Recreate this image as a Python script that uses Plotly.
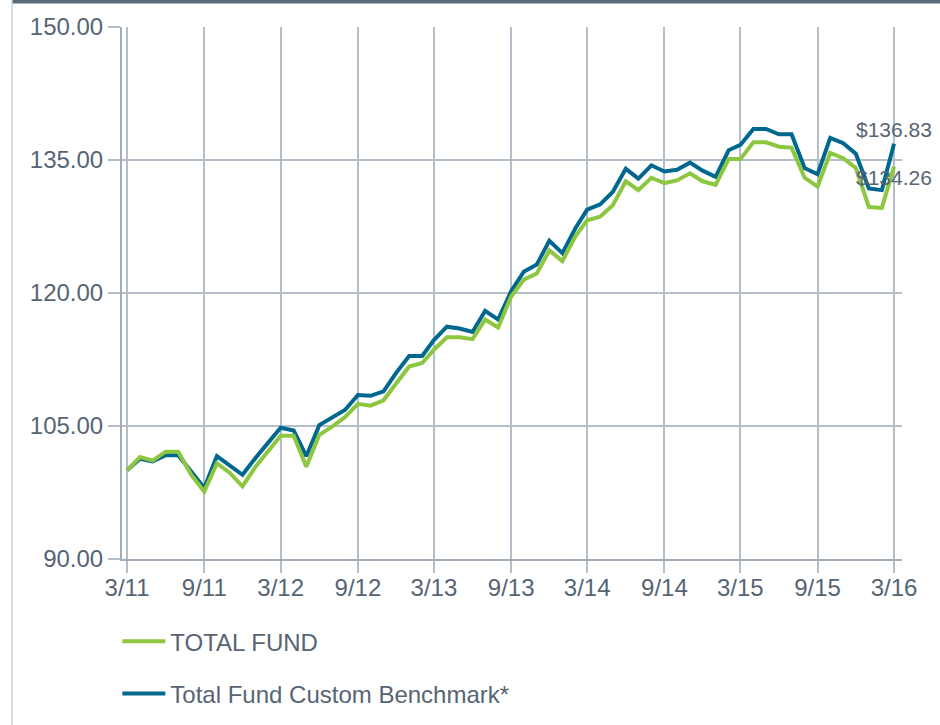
import pandas as pd
import plotly.graph_objects as go

months = pd.date_range("2011-03-01", periods=61, freq="MS")

total_fund = [
    100.0, 101.5, 101.1, 102.1, 102.1, 99.5, 97.6, 100.8, 99.7, 98.2,
    100.4, 102.3, 103.9, 103.9, 100.4, 104.0, 104.9, 106.0, 107.5, 107.3,
    107.9, 109.8, 111.7, 112.1, 113.6, 115.0, 115.0, 114.8, 117.0, 116.1,
    119.6, 121.5, 122.2, 124.8, 123.6, 126.4, 128.2, 128.6, 129.9, 132.6,
    131.6, 133.0, 132.4, 132.7, 133.5, 132.6, 132.2, 135.1, 135.1, 137.0,
    137.0, 136.5, 136.4, 133.0, 132.0, 135.8, 135.2, 134.1, 129.7, 129.6,
    134.26,
]
benchmark = [
    100.0, 101.3, 101.0, 101.7, 101.7, 99.8, 98.0, 101.6, 100.6, 99.5,
    101.4, 103.2, 104.8, 104.5, 101.6, 105.1, 106.0, 106.8, 108.5, 108.4,
    108.9, 111.0, 112.9, 112.9, 114.7, 116.2, 116.0, 115.6, 118.0, 117.0,
    120.2, 122.4, 123.2, 125.9, 124.5, 127.3, 129.4, 130.0, 131.4, 134.0,
    132.9, 134.4, 133.7, 133.9, 134.7, 133.8, 133.1, 136.1, 136.7, 138.5,
    138.5, 137.9, 137.9, 134.1, 133.4, 137.5, 136.9, 135.7, 131.8, 131.6,
    136.83,
]
series_names = ["TOTAL FUND", "Total Fund Custom Benchmark*"]
end_labels = ["$134.26", "$136.83"]
y_ticks = [90, 105, 120, 135, 150]

GREEN = "#8dc63f"
BLUE = "#00678f"
TEXT = "#566574"
GRID = "#b4bec9"
AXIS = "#a3adb8"
FONT = "Liberation Sans, Arial, sans-serif"

fig = go.Figure()
fig.add_trace(go.Scatter(
    x=months, y=benchmark, mode="lines", name=series_names[1],
    line=dict(color=BLUE, width=4), legendgroup="b", legendrank=2,
    hoverinfo="skip",
))
fig.add_trace(go.Scatter(
    x=months, y=total_fund, mode="lines", name=series_names[0],
    line=dict(color=GREEN, width=4), legendgroup="a", legendrank=1,
    hoverinfo="skip",
))

fig.add_annotation(x=months[-1], y=benchmark[-1], text=end_labels[1],
                   showarrow=False, yshift=14,
                   font=dict(size=21, color=TEXT, family=FONT))
fig.add_annotation(x=months[-1], y=total_fund[-1], text=end_labels[0],
                   showarrow=False, yshift=-11,
                   font=dict(size=21, color=TEXT, family=FONT))

# top dark bar and left border
fig.add_shape(type="rect", xref="paper", yref="paper",
              x0=(12 - 122) / 780, x1=(940 - 122) / 780,
              y0=(559 - 3.6) / 532, y1=(559 + 2) / 532,
              fillcolor="#5a6b7b", line=dict(width=0), layer="above")
fig.add_shape(type="line", xref="paper", yref="paper",
              x0=(12 - 122) / 780, x1=(12 - 122) / 780,
              y0=(559 - 730) / 532, y1=(559 + 2) / 532,
              line=dict(color="#cdd3dc", width=1.5))

fig.update_layout(
    width=940, height=725,
    margin=dict(l=122, r=38, t=27, b=166, autoexpand=False),
    paper_bgcolor="white", plot_bgcolor="white",
    font=dict(family=FONT, size=24, color=TEXT),
    showlegend=True,
    legend=dict(
        orientation="v", x=-0.006, xanchor="left", y=-0.113, yanchor="top",
        font=dict(size=24, color=TEXT, family=FONT),
        tracegroupgap=18, itemwidth=43, bgcolor="rgba(0,0,0,0)",
    ),
    xaxis=dict(
        type="date", automargin=False,
        range=["2011-02-17", "2016-03-20"],
        tick0="2011-03-01", dtick="M6", tickformat="%-m/%y",
        showgrid=True, gridcolor=GRID, gridwidth=2,
        showline=True, linecolor=AXIS, linewidth=2,
        ticks="outside", ticklen=12, tickwidth=2, tickcolor=GRID,
        ticklabelstandoff=-6,
        tickfont=dict(size=24, color=TEXT, family=FONT),
        zeroline=False, fixedrange=True,
    ),
    yaxis=dict(
        automargin=False,
        range=[90, 150], tickvals=y_ticks, tickformat=".2f",
        showgrid=True, gridcolor=GRID, gridwidth=2,
        showline=True, linecolor=AXIS, linewidth=2,
        ticks="outside", ticklen=12, tickwidth=2, tickcolor=GRID,
        tickfont=dict(size=24, color=TEXT, family=FONT),
        zeroline=False, fixedrange=True,
    ),
)

fig.write_html(
    "out.html",
    config={"displayModeBar": False, "staticPlot": True},
    post_script="document.body.style.margin='0';document.body.style.overflow='hidden';",
)
